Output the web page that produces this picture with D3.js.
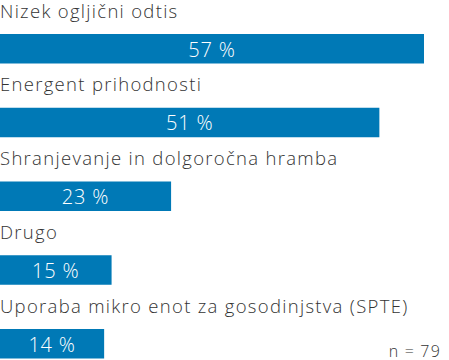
<!DOCTYPE html>
<html lang="en">
	<head>
		<meta charset="utf-8">
		<title>Bar chart</title>
		<script type="text/javascript" src="https://cdn.jsdelivr.net/npm/d3@7"></script>
		<style>
			body { margin: 0; background: #fff; }
			text { font-family: "Open Sans", sans-serif; font-weight: 300; }
		</style>
	</head>
	<body>
		<script type="text/javascript">
			var categories = [
				"Nizek ogljični odtis",
				"Energent prihodnosti",
				"Shranjevanje in dolgoročna hramba",
				"Drugo",
				"Uporaba mikro enot za gosodinjstva (SPTE)"
			];
			var values = [57, 51, 23, 15, 14];
			var note = "n = 79";

			var w = 449;
			var h = 360;

			var xScale = d3.scaleLinear()
						   .domain([0, 57])
						   .range([0, 424]);

			var yScale = d3.scaleBand()
						   .domain(categories)
						   .range([34, 358.5])
						   .paddingInner(0.6)
						   .paddingOuter(0);

			var svg = d3.select("body")
						.append("svg")
						.attr("width", w)
						.attr("height", h);

			var rows = svg.selectAll("g.row")
				.data(categories)
				.enter()
				.append("g")
				.attr("class", "row");

			// category label above each bar
			rows.append("text")
				.attr("x", 0)
				.attr("y", function(d){ return yScale(d) - 16.5; })
				.attr("font-size", 18.5)
				.attr("letter-spacing", 1.3)
				.attr("fill", "#333")
				.text(function(d){ return d; });

			rows.append("rect")
				.attr("x", 0)
				.attr("y", function(d){ return yScale(d); })
				.attr("width", function(d, i){ return xScale(values[i]); })
				.attr("height", yScale.bandwidth())
				.attr("fill", "#0079b6");

			// value inside bar
			rows.append("text")
				.attr("x", function(d, i){ return xScale(values[i]) / 2; })
				.attr("y", function(d){ return yScale(d) + 22.5; })
				.attr("text-anchor", "middle")
				.attr("font-size", 20)
				.attr("letter-spacing", 0.8)
				.attr("fill", "#fff")
				.text(function(d, i){ return values[i] + " %"; });

			svg.append("text")
				.attr("x", 441)
				.attr("y", 356.5)
				.attr("text-anchor", "end")
				.attr("font-size", 16)
				.attr("letter-spacing", 1.2)
				.attr("fill", "#333")
				.text(note);
		</script>
	</body>
</html>
